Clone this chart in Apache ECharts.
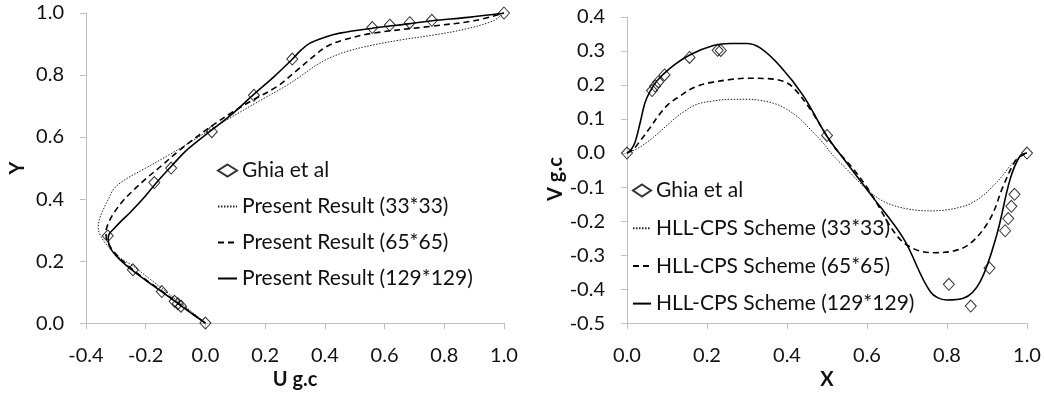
<!DOCTYPE html>
<html>
<head>
<meta charset="utf-8">
<script src="https://cdn.jsdelivr.net/npm/echarts@6/dist/echarts.min.js"></script>
<style>
  html, body { margin: 0; padding: 0; background: #fff; }
  #chart { width: 1044px; height: 395px; }
</style>
</head>
<body>
<div id="chart"></div>
<script>
// Lid-driven cavity, centreline velocity profiles.

// ---- U along the vertical centreline (left panel) ----
const ghiaY = [1.0, 0.9766, 0.9688, 0.9609, 0.9531, 0.8516, 0.7344, 0.6172, 0.5, 0.4531, 0.2813, 0.1719, 0.1016, 0.0703, 0.0625, 0.0547, 0.0];
const ghiaU = [1.0, 0.75837, 0.68439, 0.61756, 0.55892, 0.29093, 0.16256, 0.02135, -0.11477, -0.17119, -0.32726, -0.24299, -0.14612, -0.10338, -0.09266, -0.08186, 0.0];

const u33U = [0, -0.035, -0.08, -0.13, -0.19, -0.242, -0.297, -0.336, -0.355, -0.359, -0.355, -0.345, -0.325, -0.305, -0.265, -0.2, -0.13, -0.06, 0.01, 0.08, 0.16, 0.215, 0.27, 0.317, 0.373, 0.428, 0.484, 0.562, 0.66, 0.764, 0.87, 0.964, 1.0];
const u33Y = [0, 0.028, 0.062, 0.1, 0.145, 0.184, 0.218, 0.259, 0.29, 0.31, 0.335, 0.36, 0.4, 0.435, 0.465, 0.5, 0.538, 0.578, 0.62, 0.66, 0.705, 0.735, 0.765, 0.795, 0.833, 0.86, 0.879, 0.897, 0.914, 0.929, 0.948, 0.975, 1.0];

const u65U = [0, -0.04, -0.085, -0.15, -0.2, -0.25, -0.29, -0.318, -0.332, -0.333, -0.326, -0.31, -0.28, -0.245, -0.2, -0.15, -0.09, -0.03, 0.02, 0.09, 0.16, 0.24, 0.30, 0.362, 0.406, 0.462, 0.562, 0.763, 0.9, 1.0];
const u65Y = [0, 0.028, 0.06, 0.106, 0.14, 0.178, 0.213, 0.245, 0.275, 0.295, 0.32, 0.35, 0.39, 0.425, 0.465, 0.505, 0.555, 0.6, 0.635, 0.68, 0.72, 0.763, 0.81, 0.86, 0.892, 0.913, 0.935, 0.958, 0.975, 1.0];

const u129U = [0, -0.04, -0.085, -0.15, -0.2, -0.25, -0.29, -0.312, -0.322, -0.326, -0.322, -0.309, -0.283, -0.253, -0.21, -0.165, -0.115, -0.06, 0.015, 0.09, 0.16, 0.23, 0.29, 0.32, 0.35, 0.40, 0.45, 0.56, 0.68, 0.76, 0.88, 1.0];
const u129Y = [0, 0.027, 0.058, 0.104, 0.138, 0.174, 0.208, 0.232, 0.252, 0.272, 0.288, 0.302, 0.328, 0.356, 0.40, 0.452, 0.505, 0.56, 0.618, 0.675, 0.736, 0.795, 0.85, 0.88, 0.903, 0.922, 0.935, 0.951, 0.965, 0.975, 0.986, 1.0];

// ---- V along the horizontal centreline (right panel) ----
const ghiaX = [1.0, 0.9688, 0.9609, 0.9531, 0.9453, 0.9063, 0.8594, 0.8047, 0.5, 0.2344, 0.2266, 0.1563, 0.0938, 0.0781, 0.0703, 0.0625, 0.0];
const ghiaV = [0.0, -0.12146, -0.15663, -0.19254, -0.22847, -0.33827, -0.44993, -0.38598, 0.05186, 0.30174, 0.30203, 0.28124, 0.22965, 0.2092, 0.19713, 0.1836, 0.0];

const v33X = [0, 0.024, 0.049, 0.075, 0.108, 0.14, 0.174, 0.215, 0.258, 0.3, 0.333, 0.37, 0.399, 0.43, 0.458, 0.49, 0.516, 0.549, 0.58, 0.608, 0.635, 0.666, 0.7, 0.733, 0.766, 0.799, 0.83, 0.858, 0.89, 0.916, 0.94, 0.958, 0.98, 1.0];
const v33V = [0, 0.012, 0.031, 0.055, 0.09, 0.12, 0.143, 0.153, 0.158, 0.158, 0.155, 0.145, 0.129, 0.103, 0.07, 0.03, -0.008, -0.047, -0.085, -0.115, -0.138, -0.154, -0.164, -0.169, -0.17, -0.167, -0.16, -0.149, -0.125, -0.096, -0.065, -0.037, -0.012, 0];

const v65X = [0, 0.015, 0.033, 0.058, 0.078, 0.103, 0.133, 0.166, 0.208, 0.258, 0.299, 0.349, 0.391, 0.416, 0.458, 0.516, 0.566, 0.608, 0.674, 0.716, 0.766, 0.808, 0.858, 0.908, 0.941, 0.974, 1.0];
const v65V = [0, 0.01, 0.036, 0.075, 0.109, 0.143, 0.168, 0.192, 0.207, 0.216, 0.22, 0.219, 0.211, 0.192, 0.129, 0.021, -0.047, -0.115, -0.242, -0.281, -0.293, -0.29, -0.266, -0.193, -0.096, -0.018, 0];

const v129X = [0, 0.01, 0.02, 0.033, 0.045, 0.058, 0.074, 0.108, 0.158, 0.216, 0.258, 0.299, 0.333, 0.383, 0.441, 0.499, 0.55, 0.608, 0.691, 0.758, 0.799, 0.841, 0.883, 0.924, 0.958, 0.983, 1.0];
const v129V = [0, 0.01, 0.031, 0.09, 0.148, 0.182, 0.211, 0.25, 0.289, 0.316, 0.322, 0.322, 0.309, 0.255, 0.168, 0.051, -0.03, -0.12, -0.251, -0.407, -0.432, -0.427, -0.378, -0.242, -0.076, -0.008, 0];

// ---- axis ticks ----
const uTicks = [-0.4, -0.2, 0.0, 0.2, 0.4, 0.6, 0.8, 1.0];
const yTicks = [0.0, 0.2, 0.4, 0.6, 0.8, 1.0];
const xTicks = [0.0, 0.2, 0.4, 0.6, 0.8, 1.0];
const vTicks = [-0.5, -0.4, -0.3, -0.2, -0.1, 0.0, 0.1, 0.2, 0.3, 0.4];

const pairs = (xs, ys) => xs.map((x, i) => [x, ys[i]]);
const FONT = 'Lato, "Liberation Sans", sans-serif';
const AXIS_GREY = '#bfbfbf';
const TEXT = '#111';
const fmt = v => (Math.abs(v) < 1e-9 ? '0.0' : v.toFixed(1));

function valueAxis(ticks, gridIndex, name, nameGap, namePadding) {
  return {
    type: 'value',
    gridIndex: gridIndex,
    min: ticks[0],
    max: ticks[ticks.length - 1],
    interval: +(ticks[1] - ticks[0]).toFixed(6),
    name: name,
    nameLocation: 'middle',
    nameGap: nameGap,
    nameTextStyle: { fontFamily: FONT, fontSize: 20, fontWeight: 'bold', color: TEXT, padding: namePadding || 0 },
    axisLine: { show: true, onZero: false, lineStyle: { color: AXIS_GREY, width: 1 } },
    axisTick: { show: true, length: 6, lineStyle: { color: AXIS_GREY } },
    splitLine: { show: false },
    axisLabel: { fontFamily: FONT, fontSize: 20, color: TEXT, margin: 22, formatter: fmt }
  };
}

const lineBase = { type: 'line', symbol: 'none', smooth: 0.35, silent: true, animation: false, z: 2 };
const ghiaStyle = {
  type: 'scatter', symbol: 'diamond', symbolSize: [11, 12], z: 5, animation: false,
  itemStyle: { color: 'rgba(255,255,255,0)', borderColor: '#000', borderWidth: 1 }
};
const dotted = { color: '#222', width: 1, type: [1.5, 1.5] };
const dashed = { color: '#000', width: 1.6, type: [6, 4] };
const solid = { color: '#000', width: 1.6, type: 'solid' };

// legend entries for the line series show the stroke only
const lineEntry = name => ({ name: name, itemStyle: { opacity: 0 } });

const legendBase = {
  orient: 'vertical', padding: 0, itemWidth: 19, itemHeight: 12,
  textStyle: { fontFamily: FONT, fontSize: 21, color: TEXT, lineHeight: 20 },
  selectedMode: false
};

const option = {
  backgroundColor: '#fff',
  animation: false,
  grid: [
    { left: 86, right: 540, top: 13, bottom: 71 },
    { left: 627, right: 17, top: 17, bottom: 70 }
  ],
  xAxis: [
    valueAxis(uTicks, 0, 'U g.c', 42),
    valueAxis(xTicks, 1, 'X', 34)
  ],
  yAxis: [
    valueAxis(yTicks, 0, 'Y', 58),
    valueAxis(vTicks, 1, 'V g.c', 60, [0, 18, 0, 0])
  ],
  legend: [
    Object.assign({}, legendBase, {
      left: 217, top: 160, itemGap: 15,
      data: ['Ghia et al', lineEntry('Present Result (33*33)'), lineEntry('Present Result (65*65)'), lineEntry('Present Result (129*129)')]
    }),
    Object.assign({}, legendBase, {
      left: 632, top: 180, itemGap: 16.7, itemWidth: 18,
      data: ['Ghia et al', lineEntry('HLL-CPS Scheme (33*33)'), lineEntry('HLL-CPS Scheme (65*65)'), lineEntry('HLL-CPS Scheme (129*129)')]
    })
  ],
  series: [
    Object.assign({}, ghiaStyle, { name: 'Ghia et al', xAxisIndex: 0, yAxisIndex: 0, data: pairs(ghiaU, ghiaY) }),
    Object.assign({}, lineBase, { name: 'Present Result (33*33)', xAxisIndex: 0, yAxisIndex: 0, lineStyle: dotted, itemStyle: { color: '#222' }, data: pairs(u33U, u33Y) }),
    Object.assign({}, lineBase, { name: 'Present Result (65*65)', xAxisIndex: 0, yAxisIndex: 0, lineStyle: dashed, itemStyle: { color: '#000' }, data: pairs(u65U, u65Y) }),
    Object.assign({}, lineBase, { name: 'Present Result (129*129)', xAxisIndex: 0, yAxisIndex: 0, lineStyle: solid, itemStyle: { color: '#000' }, data: pairs(u129U, u129Y) }),

    Object.assign({}, ghiaStyle, { name: 'Ghia et al', xAxisIndex: 1, yAxisIndex: 1, data: pairs(ghiaX, ghiaV) }),
    Object.assign({}, lineBase, { name: 'HLL-CPS Scheme (33*33)', xAxisIndex: 1, yAxisIndex: 1, lineStyle: dotted, itemStyle: { color: '#222' }, data: pairs(v33X, v33V) }),
    Object.assign({}, lineBase, { name: 'HLL-CPS Scheme (65*65)', xAxisIndex: 1, yAxisIndex: 1, lineStyle: dashed, itemStyle: { color: '#000' }, data: pairs(v65X, v65V) }),
    Object.assign({}, lineBase, { name: 'HLL-CPS Scheme (129*129)', xAxisIndex: 1, yAxisIndex: 1, lineStyle: solid, itemStyle: { color: '#000' }, data: pairs(v129X, v129V) })
  ]
};

const chart = echarts.init(document.getElementById('chart'), null, { renderer: 'canvas' });
chart.setOption(option);
</script>
</body>
</html>
